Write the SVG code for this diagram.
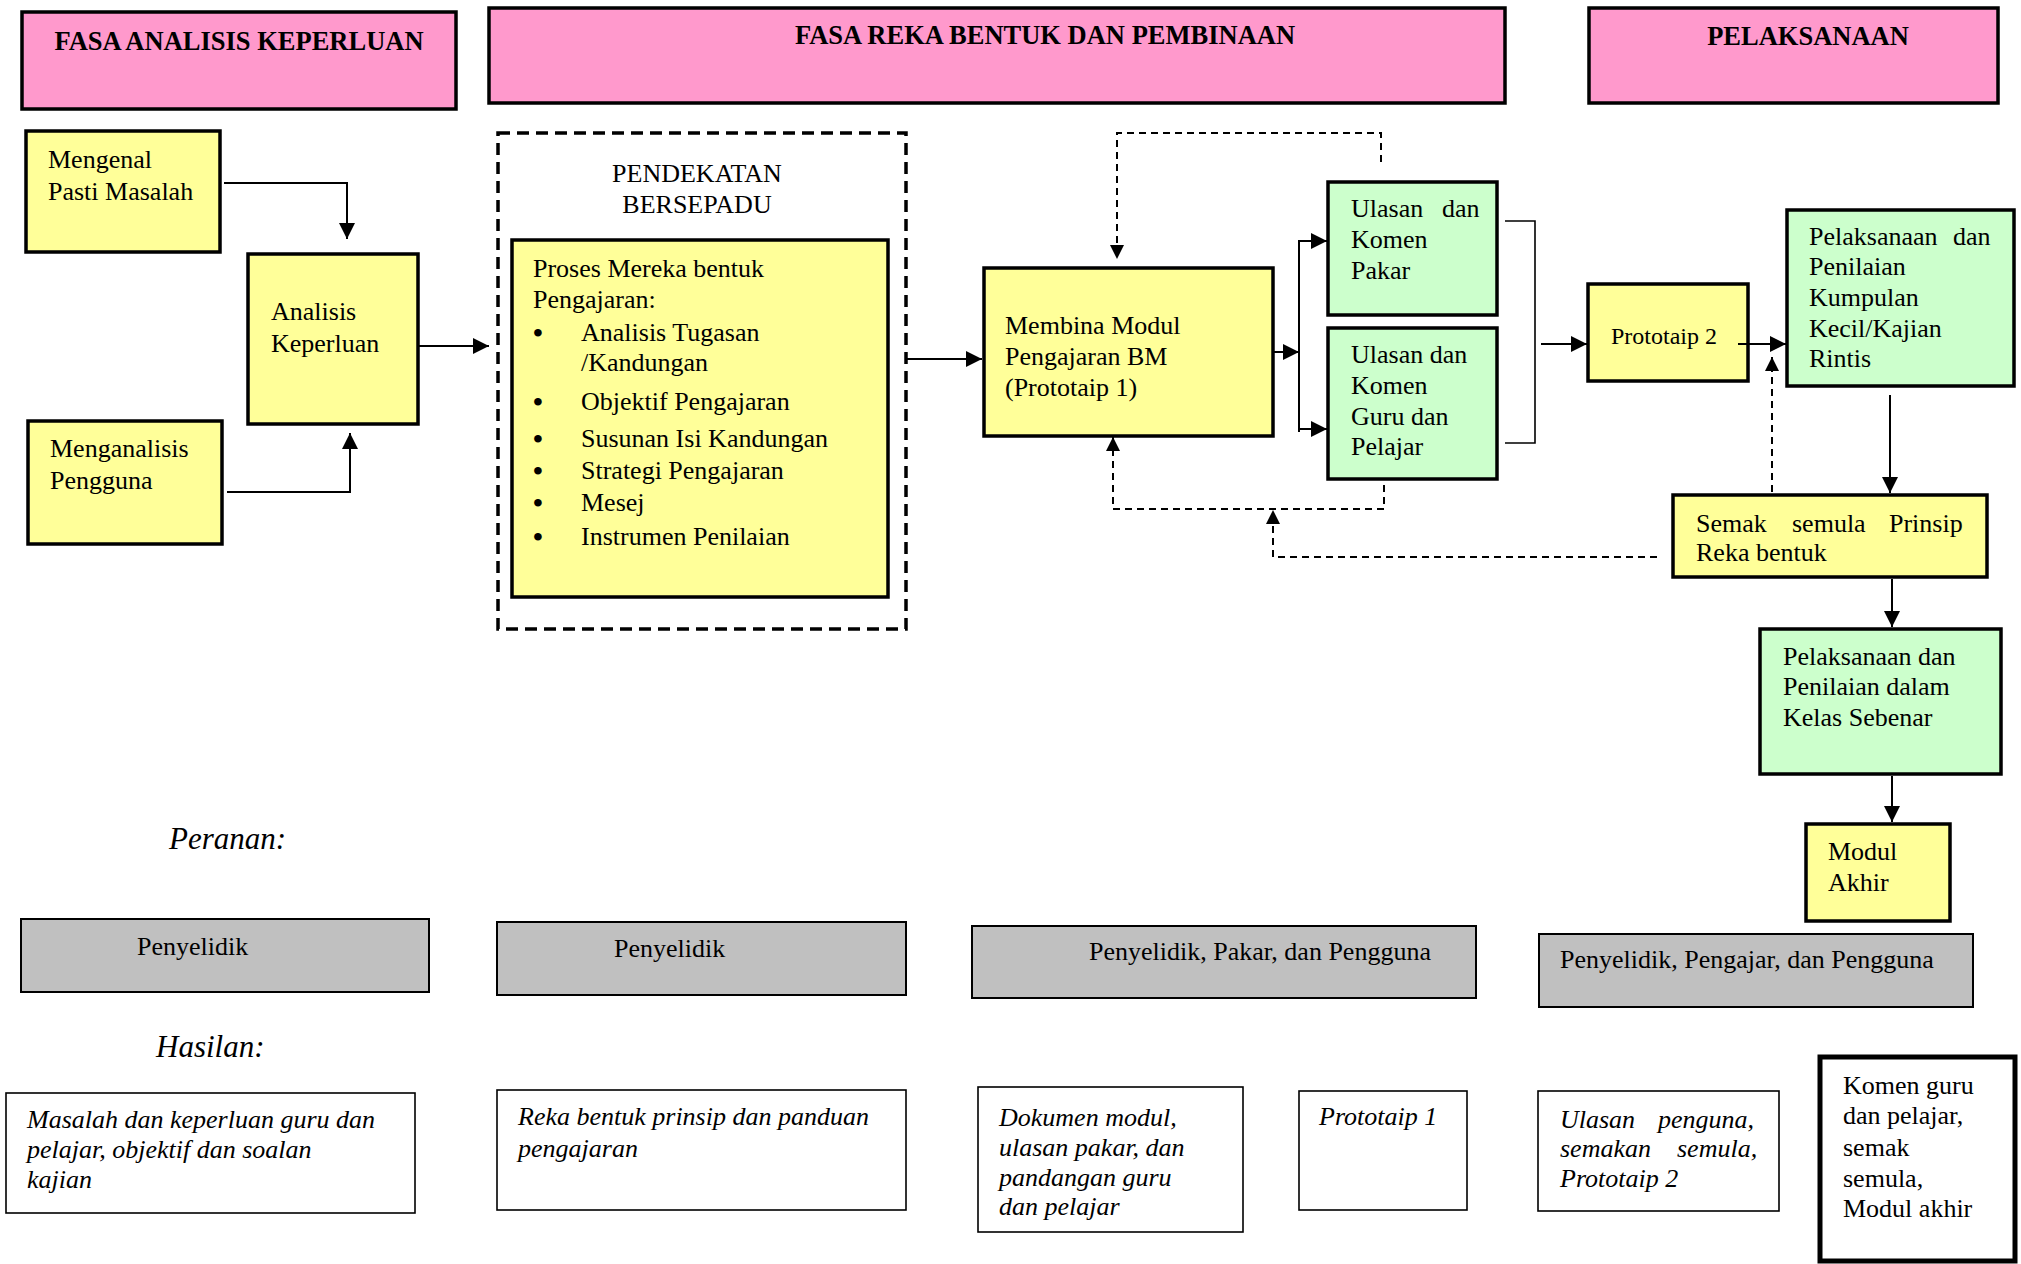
<svg xmlns="http://www.w3.org/2000/svg" width="2021" height="1264" viewBox="0 0 2021 1264">
<style>
.hdr{fill:#FF99CC;stroke:#000;stroke-width:3.5}
.yel{fill:#FFFF99;stroke:#000;stroke-width:3.5}
.grn{fill:#CCFFCC;stroke:#000;stroke-width:3.5}
.gry{fill:#C0C0C0;stroke:#000;stroke-width:2}
.out{fill:#FFFFFF;stroke:#000;stroke-width:1.6}
.thick{fill:#FFFFFF;stroke:#000;stroke-width:5}
.dbox{fill:none;stroke:#000;stroke-width:3.5;stroke-dasharray:12 7}
text{font-family:"Liberation Serif","Times New Roman",serif;font-size:26px;fill:#000}
.b{font-weight:bold;font-size:26.5px}
.i{font-style:italic}
.lab{font-style:italic;font-size:31px}
.bul{font-size:28px;font-weight:bold}
.ln{fill:none;stroke:#000;stroke-width:2}
.dl{fill:none;stroke:#000;stroke-width:2;stroke-dasharray:7 5}
</style>
<defs>
<marker id="ah" viewBox="0 0 16 16" refX="16" refY="8" markerWidth="16" markerHeight="16" markerUnits="userSpaceOnUse" orient="auto">
<path d="M0,0 L16,8 L0,16 z" fill="#000"/>
</marker>
<marker id="ahs" viewBox="0 0 14 14" refX="14" refY="7" markerWidth="14" markerHeight="14" markerUnits="userSpaceOnUse" orient="auto">
<path d="M0,0 L14,7 L0,14 z" fill="#000"/>
</marker>
</defs>

<g id="headers">
<g id="h1"><rect class="hdr" x="22" y="12" width="434" height="97"/><text class="b" x="239" y="50" text-anchor="middle">FASA ANALISIS KEPERLUAN</text></g>
<g id="h2"><rect class="hdr" x="489" y="8" width="1016" height="95"/><text class="b" x="1045" y="44" text-anchor="middle">FASA REKA BENTUK DAN PEMBINAAN</text></g>
<g id="h3"><rect class="hdr" x="1589" y="8" width="409" height="95"/><text class="b" x="1808" y="45" text-anchor="middle">PELAKSANAAN</text></g>
</g>

<g id="n-mengenal"><rect class="yel" x="26" y="131" width="194" height="121"/><text x="48" y="168">Mengenal</text><text x="48" y="200">Pasti Masalah</text></g>
<g id="n-analisis"><rect class="yel" x="248" y="254" width="170" height="170"/><text x="271" y="320">Analisis</text><text x="271" y="352">Keperluan</text></g>
<g id="n-menganalisis"><rect class="yel" x="28" y="421" width="194" height="123"/><text x="50" y="457">Menganalisis</text><text x="50" y="489">Pengguna</text></g>

<g id="n-pendekatan">
<rect class="dbox" x="498" y="133" width="408" height="496"/>
<text x="697" y="182" text-anchor="middle">PENDEKATAN</text>
<text x="697" y="213" text-anchor="middle">BERSEPADU</text>
</g>
<g id="n-proses">
<rect class="yel" x="512" y="240" width="376" height="357"/>
<text x="533" y="277">Proses Mereka bentuk</text>
<text x="533" y="308">Pengajaran:</text>
<text class="bul" x="533" y="342">•</text><text x="581" y="341">Analisis Tugasan</text>
<text x="581" y="371">/Kandungan</text>
<text class="bul" x="533" y="411">•</text><text x="581" y="410">Objektif Pengajaran</text>
<text class="bul" x="533" y="448">•</text><text x="581" y="447">Susunan Isi Kandungan</text>
<text class="bul" x="533" y="480">•</text><text x="581" y="479">Strategi Pengajaran</text>
<text class="bul" x="533" y="512">•</text><text x="581" y="511">Mesej</text>
<text class="bul" x="533" y="546">•</text><text x="581" y="545">Instrumen Penilaian</text>
</g>

<g id="n-membina"><rect class="yel" x="984" y="268" width="289" height="168"/><text x="1005" y="334">Membina Modul</text><text x="1005" y="365">Pengajaran BM</text><text x="1005" y="396">(Prototaip 1)</text></g>

<g id="n-pakar"><rect class="grn" x="1328" y="182" width="169" height="133"/><text x="1351" y="217">Ulasan</text><text x="1442" y="217">dan</text><text x="1351" y="248">Komen</text><text x="1351" y="279">Pakar</text></g>
<g id="n-guru"><rect class="grn" x="1328" y="328" width="169" height="151"/><text x="1351" y="363">Ulasan dan</text><text x="1351" y="394">Komen</text><text x="1351" y="425">Guru dan</text><text x="1351" y="455">Pelajar</text></g>

<g id="n-prototaip2"><rect class="yel" x="1588" y="284" width="160" height="97"/><text x="1611" y="344" style="font-size:24px">Prototaip 2</text></g>

<g id="n-kumpulan"><rect class="grn" x="1787" y="210" width="227" height="176"/><text x="1809" y="245">Pelaksanaan</text><text x="1953" y="245">dan</text><text x="1809" y="275">Penilaian</text><text x="1809" y="306">Kumpulan</text><text x="1809" y="337">Kecil/Kajian</text><text x="1809" y="367">Rintis</text></g>

<g id="n-semak"><rect class="yel" x="1673" y="495" width="314" height="82"/><text x="1696" y="532">Semak</text><text x="1792" y="532">semula</text><text x="1889" y="532">Prinsip</text><text x="1696" y="561">Reka bentuk</text></g>

<g id="n-kelas"><rect class="grn" x="1760" y="629" width="241" height="145"/><text x="1783" y="665">Pelaksanaan dan</text><text x="1783" y="695">Penilaian dalam</text><text x="1783" y="726">Kelas Sebenar</text></g>

<g id="n-modul"><rect class="yel" x="1806" y="824" width="144" height="97"/><text x="1828" y="860">Modul</text><text x="1828" y="891">Akhir</text></g>

<g id="labels">
<text class="lab" x="169" y="849">Peranan:</text>
<text class="lab" x="156" y="1057">Hasilan:</text>
</g>

<g id="n-peranan1"><rect class="gry" x="21" y="919" width="408" height="73"/><text x="137" y="955">Penyelidik</text></g>
<g id="n-peranan2"><rect class="gry" x="497" y="922" width="409" height="73"/><text x="614" y="957">Penyelidik</text></g>
<g id="n-peranan3"><rect class="gry" x="972" y="926" width="504" height="72"/><text x="1089" y="960">Penyelidik, Pakar, dan Pengguna</text></g>
<g id="n-peranan4"><rect class="gry" x="1539" y="934" width="434" height="73"/><text x="1560" y="968">Penyelidik, Pengajar, dan Pengguna</text></g>

<g id="n-hasil1"><rect class="out" x="6" y="1093" width="409" height="120"/><text class="i" x="27" y="1128">Masalah dan keperluan guru dan</text><text class="i" x="27" y="1158">pelajar, objektif dan soalan</text><text class="i" x="27" y="1188">kajian</text></g>
<g id="n-hasil2"><rect class="out" x="497" y="1090" width="409" height="120"/><text class="i" x="518" y="1125">Reka bentuk prinsip dan panduan</text><text class="i" x="518" y="1157">pengajaran</text></g>
<g id="n-hasil3"><rect class="out" x="978" y="1087" width="265" height="145"/><text class="i" x="999" y="1126">Dokumen modul,</text><text class="i" x="999" y="1156">ulasan pakar, dan</text><text class="i" x="999" y="1186">pandangan guru</text><text class="i" x="999" y="1215">dan pelajar</text></g>
<g id="n-hasil4"><rect class="out" x="1299" y="1091" width="168" height="119"/><text class="i" x="1319" y="1125">Prototaip 1</text></g>
<g id="n-hasil5"><rect class="out" x="1538" y="1091" width="241" height="120"/><text class="i" x="1560" y="1128">Ulasan</text><text class="i" x="1658" y="1128">penguna,</text><text class="i" x="1560" y="1157">semakan</text><text class="i" x="1677" y="1157">semula,</text><text class="i" x="1560" y="1187">Prototaip 2</text></g>
<g id="n-hasil6"><rect class="thick" x="1820" y="1057" width="195" height="204"/><text x="1843" y="1094">Komen guru</text><text x="1843" y="1124">dan pelajar,</text><text x="1843" y="1156">semak</text><text x="1843" y="1187">semula,</text><text x="1843" y="1217">Modul akhir</text></g>

<g id="connectors">
<path class="ln" d="M224,183 H347 V239" marker-end="url(#ah)"/>
<path class="ln" d="M227,492 H350 V433" marker-end="url(#ah)"/>
<path class="ln" d="M418,346 H489" marker-end="url(#ah)"/>
<path class="ln" d="M906,359 H982" marker-end="url(#ah)"/>
<path class="dl" d="M1381,162 V133 H1117 V259" marker-end="url(#ahs)"/>
<path class="dl" d="M1384,485 V509 H1113 V437" marker-end="url(#ahs)"/>
<path class="dl" d="M1657,557 H1273 V510" marker-end="url(#ahs)"/>
<path class="ln" d="M1273,352 H1299" marker-end="url(#ah)"/>
<path class="ln" d="M1299,240 V432"/>
<path class="ln" d="M1299,241 H1327" marker-end="url(#ah)"/>
<path class="ln" d="M1299,429 H1327" marker-end="url(#ah)"/>
<path class="ln" style="stroke-width:1.6" d="M1505,221 H1535 V443 H1505"/>
<path class="ln" d="M1541,344 H1587" marker-end="url(#ah)"/>
<path class="ln" d="M1738,344 H1786" marker-end="url(#ah)"/>
<path class="dl" d="M1772,492 V357" marker-end="url(#ahs)"/>
<path class="ln" d="M1890,395 V493" marker-end="url(#ah)"/>
<path class="ln" d="M1892,579 V627" marker-end="url(#ah)"/>
<path class="ln" d="M1892,776 V822" marker-end="url(#ah)"/>
</g>
</svg>
